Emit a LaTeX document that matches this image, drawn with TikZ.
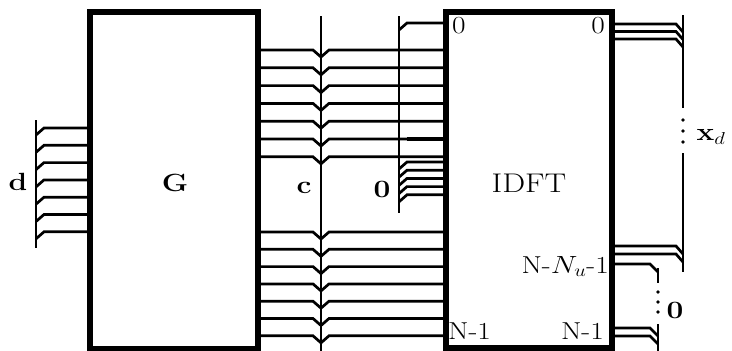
\documentclass[tikz,border=0pt]{standalone}
\usepackage{graphicx}
\newcommand{\hstr}[1]{\scalebox{1.2}[1]{#1}}
\begin{document}
\begin{tikzpicture}[x=1pt,y=-1pt,
  wire/.style={line width=2.7pt, line join=miter},
  bus/.style={line width=2.9pt},
  blk/.style={draw, line width=5.2pt, inner sep=0pt, outer sep=0pt},
  big/.style={font=\fontsize{27}{27}\selectfont, inner sep=0pt},
  small/.style={font=\fontsize{24.5}{24.5}\selectfont, inner sep=0pt},
  dotc/.style={fill, circle, inner sep=0pt, minimum size=3.6pt}]
\useasboundingbox (0,0) rectangle (732,351);
% blocks
\node[blk, minimum width=168pt, minimum height=337pt] (G) at (174,180.5) {};
\node[blk, minimum width=166pt, minimum height=336pt] (IDFT) at (529,180) {};
\node[big] (Glab) at (175,183) {\hstr{$\mathbf{G}$}};
\node[big] (Ilab) at (529,183) {\hstr{IDFT}};
% bus coordinates
\coordinate (dtop) at (36,120);   \coordinate (dbot) at (36,248);
\coordinate (ctop) at (321,16);   \coordinate (cbot) at (321,351);
\coordinate (ztop) at (399,16);   \coordinate (zbot) at (399,213);
\coordinate (xtop) at (683,15);   \coordinate (xa) at (683,108);
\coordinate (xb) at (683,153);    \coordinate (xbot) at (683,272);
\coordinate (otop) at (658,268);  \coordinate (oa) at (658,283);
\coordinate (ob) at (658,324);    \coordinate (obot) at (658,351);
\draw[bus] (dtop) -- (dbot);
\draw[bus] (ctop) -- (cbot);
\draw[bus] (ztop) -- (zbot);
\draw[bus] (xtop) -- (xa);
\draw[bus] (xb) -- (xbot);
\draw[bus] (otop) -- (oa);
\draw[bus] (ob) -- (obot);
% d wires
\foreach \y in {128,145.3,162.6,179.9,197.2,214.5,231.8}
  \draw[wire] (G.west |- 0,\y) -- (44,\y) -- (36,\y+7);
% c wires upper
\foreach \y in {50,67.8,85.6,103.4,121.2,139,156.8}
  \draw[wire] (G.east |- 0,\y) -- (313,\y) -- (321,\y+7) -- (329,\y) -- (IDFT.west |- 0,\y);
\coordinate (thk) at (407,139);
\draw[line width=3.6pt] (thk) -- (IDFT.west |- thk);
% c wires lower
\foreach \y in {232,249.3,266.6,283.9,301.2,318.5,335.8}
  \draw[wire] (G.east |- 0,\y) -- (313,\y) -- (321,\y+7) -- (329,\y) -- (IDFT.west |- 0,\y);
% zero wires into IDFT
\foreach \y in {23,162,170.2,178.4,186.6,194.8}
  \draw[wire] (399,\y+7) -- (407,\y) -- (IDFT.west |- 0,\y);
% outputs to x_d
\foreach \y in {24,31.5,39,246,254}
  \draw[wire] (IDFT.east |- 0,\y) -- (676,\y) -- (683,\y+8);
% outputs to zero
\foreach \y in {264,328,336}
  \draw[wire] (IDFT.east |- 0,\y) -- (650,\y) -- (658,\y+8);
% dots
\foreach \y in {120,131,142}
  \node[dotc] at (683,\y) {};
\foreach \y in {292,302,312}
  \node[dotc] at (658,\y) {};
% labels
\node[big] (dlab) at (18,182) {\hstr{$\mathbf{d}$}};
\node[big] (clab) at (304,188) {\hstr{$\mathbf{c}$}};
\node[big] (zlab) at (382,189) {\hstr{$\mathbf{0}$}};
\node[big] (xlab) at (711,137) {\hstr{$\mathbf{x}_d$}};
\node[big] (olab) at (675,310) {\hstr{$\mathbf{0}$}};
\node[small, anchor=base west] (l0) at (452,33) {\hstr{0}};
\node[small, anchor=base east] (r0) at (605,33) {\hstr{0}};
\node[small, anchor=base east] (rn) at (609,273) {\hstr{N-$N_u$-1}};
\node[small, anchor=base west] (ln1) at (448,339) {\hstr{N-1}};
\node[small, anchor=base east] (rn1) at (604,339) {\hstr{N-1}};
\end{tikzpicture}
\end{document}
